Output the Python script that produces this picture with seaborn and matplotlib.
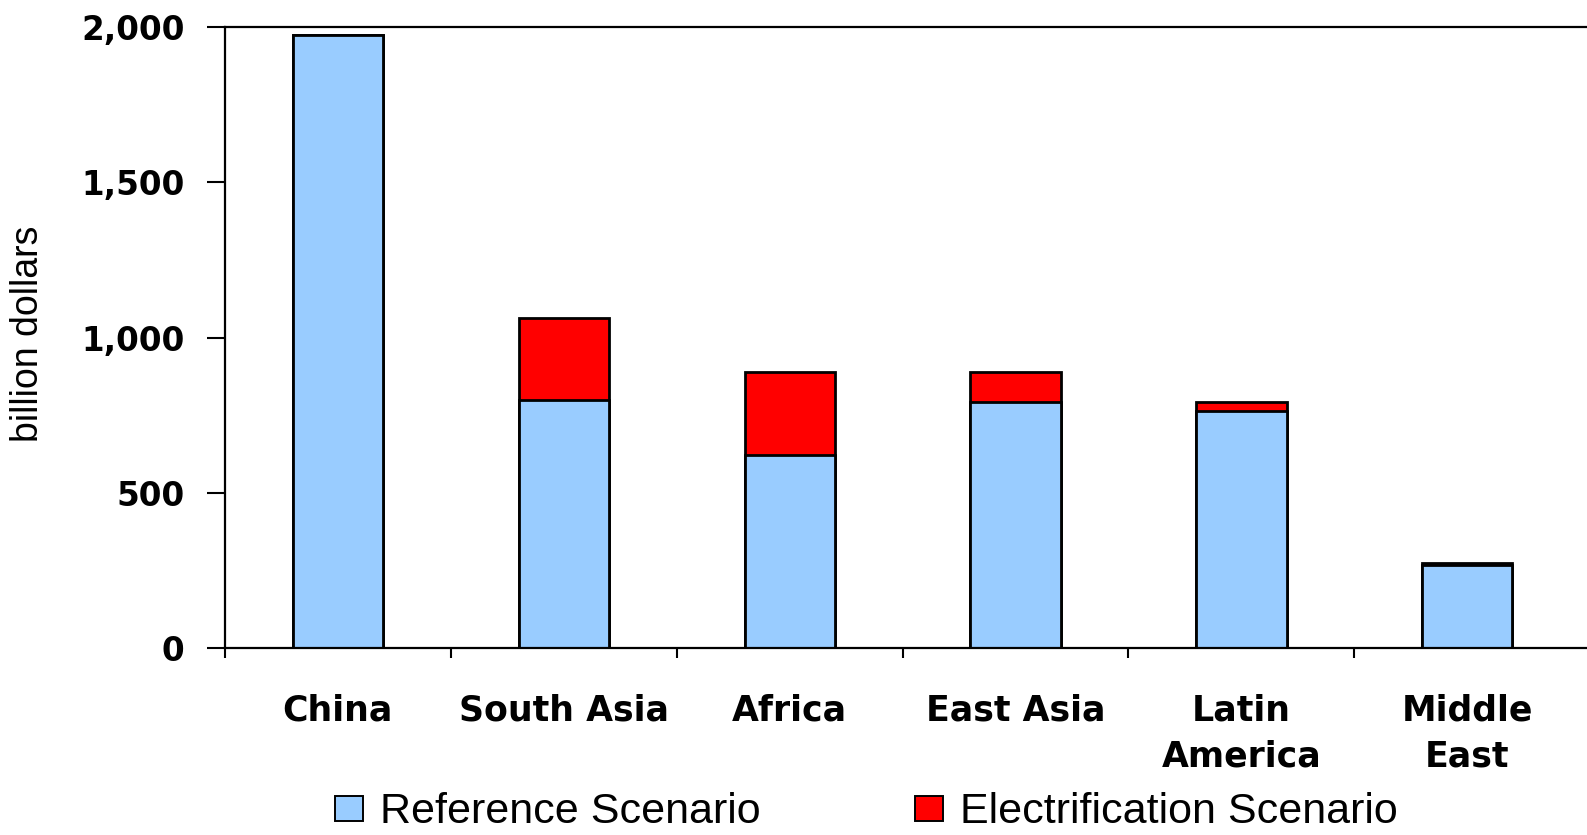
import matplotlib
matplotlib.use("Agg")
import matplotlib.pyplot as plt
import matplotlib.patches as mpatches
import seaborn as sns
import pandas as pd

categories = ["China", "South Asia", "Africa", "East Asia", "Latin\nAmerica", "Middle\nEast"]
reference = [1975, 800, 622, 792, 763, 267]
electrification = [0, 263, 267, 97, 29, 6]
y_ticks = [0, 500, 1000, 1500, 2000]
y_tick_labels = ["0", "500", "1,000", "1,500", "2,000"]
series_names = ["Reference Scenario", "Electrification Scenario"]

blue = "#99CCFF"
red = "#FF0000"

sns.set_theme(style="white")
plt.rcParams["font.family"] = ["DejaVu Sans"]
plt.rcParams["text.color"] = "black"
plt.rcParams["xtick.color"] = "black"
plt.rcParams["ytick.color"] = "black"
plt.rcParams["axes.labelcolor"] = "black"

df = pd.DataFrame({
    "region": categories,
    "reference": reference,
    "total": [r + e for r, e in zip(reference, electrification)],
})

fig = plt.figure(figsize=(15.87, 8.35), dpi=100)
ax = fig.add_axes([225 / 1587, 1 - 648 / 835, 1 - 225 / 1587, (648 - 27) / 835])

sns.barplot(data=df, x="region", y="total", color=red, width=0.4,
            edgecolor="black", linewidth=2.0, saturation=1, ax=ax)
sns.barplot(data=df, x="region", y="reference", color=blue, width=0.4,
            edgecolor="black", linewidth=2.0, saturation=1, ax=ax)

ax.set_xlim(-0.5, 5.53)
ax.set_ylim(0, 2000)
ax.set_xlabel("")
ax.set_ylabel("")

ax.set_yticks(y_ticks)
ax.set_yticklabels(y_tick_labels, fontsize=23.5, fontweight="bold", color="black")
ax.tick_params(axis="y", which="major", direction="out", length=13, width=1.5,
               pad=16, color="black", left=True)

ax.set_xticks(range(len(categories)))
ax.set_xticklabels(categories, fontsize=25, fontweight="bold", linespacing=1.45,
                   color="black")
ax.tick_params(axis="x", which="major", length=0, pad=33)
ax.set_xticks([i - 0.5 for i in range(len(categories))], minor=True)
ax.tick_params(axis="x", which="minor", direction="out", length=7.5, width=1.5,
               color="black", bottom=True)

for side in ["left", "bottom", "top"]:
    ax.spines[side].set_visible(True)
    ax.spines[side].set_color("black")
    ax.spines[side].set_linewidth(1.6)
ax.spines["right"].set_visible(False)
ax.grid(False)

fig.text(28 / 1587, 1 - 334 / 835, "billion dollars", rotation=90, ha="center",
         va="center", fontsize=27, color="black",
         family=["Liberation Sans Narrow", "Liberation Sans"])

handles = [
    mpatches.Patch(facecolor=blue, edgecolor="black", linewidth=1.4, label=series_names[0]),
    mpatches.Patch(facecolor=red, edgecolor="black", linewidth=1.4, label=series_names[1]),
]
fig.legend(handles=handles, loc="center", bbox_to_anchor=(0.546, 0.027), ncol=2,
           frameon=False, prop={"family": ["Liberation Sans"], "size": 31},
           handlelength=0.63, handleheight=0.53, handletextpad=0.4,
           columnspacing=3.6, borderaxespad=0, borderpad=0, labelcolor="black")

fig.savefig("out.png", dpi=100)
